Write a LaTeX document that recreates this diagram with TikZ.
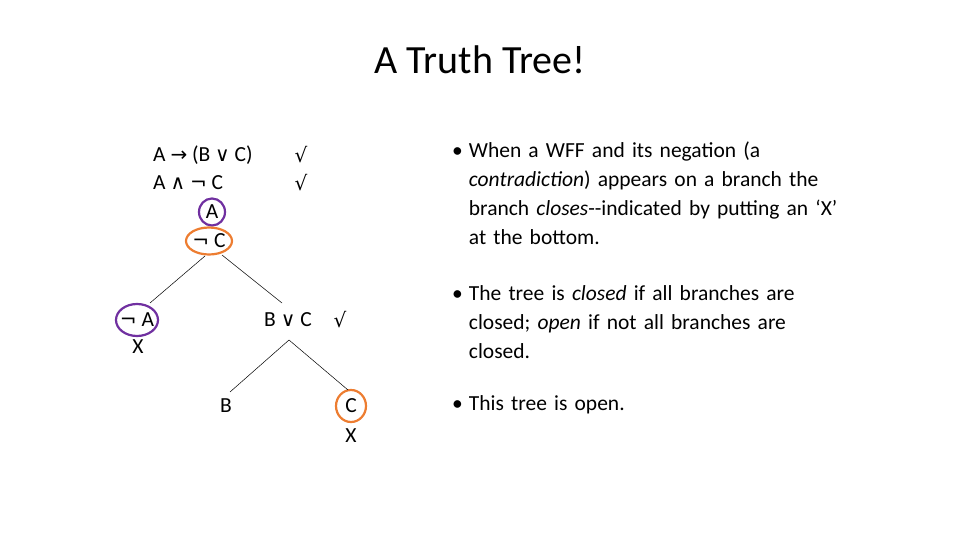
\documentclass[tikz,border=0pt]{standalone}
\usepackage{fontspec}
\setmainfont{Carlito}
\newfontfamily\symf{DejaVu Sans}
\newcommand\sy[1]{{\symf\fontsize{20}{24}\selectfont #1}}
\usetikzlibrary{shapes.geometric}
\begin{document}
\begin{tikzpicture}[x=1pt,y=-1pt,
  every node/.style={font=\fontsize{21.5}{29}\selectfont, inner sep=0pt},
  ring/.style={draw, line width=2.2pt, ellipse},
  pur/.style={ring, draw={rgb,255:red,112;green,48;blue,160}},
  ora/.style={ring, draw={rgb,255:red,237;green,125;blue,49}},
  br/.style={draw, line width=0.5pt},
  bul/.style={anchor=north west, text width=400pt, align=left}]
\useasboundingbox (0,0) rectangle (960,540);
\node (title) at (480,60) {\fontsize{40}{44}\selectfont A Truth Tree!};
\node[anchor=west] (l1) at (153,155) {A \sy{→} (B \sy{∨} C)};
\node (c1) at (301,155) {\sy{√}};
\node[anchor=west] (l2) at (153,183) {A \sy{∧} \sy{¬} C};
\node (c2) at (301,183) {\sy{√}};
\node (a) at (212,212) {A};
\node[pur, minimum width=26pt, minimum height=27pt] (ac) at (212,212) {};
\node (nc) at (209,241) {\sy{¬} C};
\node[ora, minimum width=46pt, minimum height=27pt] (ncc) at (209,241) {};
\coordinate (t1) at (205,256);
\coordinate (t2) at (222,255);
\node (na) at (137,320) {\sy{¬} A};
\node[pur, minimum width=42pt, minimum height=32pt] (nac) at (137,320) {};
\node (x1) at (138,347) {X};
\node (bc) at (288,320) {B \sy{∨} C};
\node (c3) at (340,320) {\sy{√}};
\coordinate (m1) at (150,303);
\coordinate (m2) at (282,303);
\draw[br] (t1) -- (m1);
\draw[br] (t2) -- (m2);
\coordinate (u) at (289,340);
\node (b) at (226,406) {B};
\node (c) at (351,406) {C};
\node[ora, minimum width=30pt, minimum height=32pt] (cc) at (351,406) {};
\node (x2) at (351,436) {X};
\draw[br] (u) -- (230,392);
\draw[br] (u) -- (348,390);
\node[bul] (p1) at (452,142) {\textbullet\hspace{6pt}\parbox[t]{372pt}{\raggedright\hyphenpenalty=10000 When a WFF and its negation (a \textit{contradiction}) appears on a branch the branch \textit{closes}{-}{-}indicated by putting an ‘X’ at the bottom.}};
\node[bul] (p2) at (452,285) {\textbullet\hspace{6pt}\parbox[t]{350pt}{\raggedright\hyphenpenalty=10000 The tree is \textit{closed} if all branches are closed; \textit{open} if not all branches are closed.}};
\node[bul] (p3) at (452,395) {\textbullet\hspace{6pt}\parbox[t]{385pt}{\raggedright This tree is open.}};
\end{tikzpicture}
\end{document}
